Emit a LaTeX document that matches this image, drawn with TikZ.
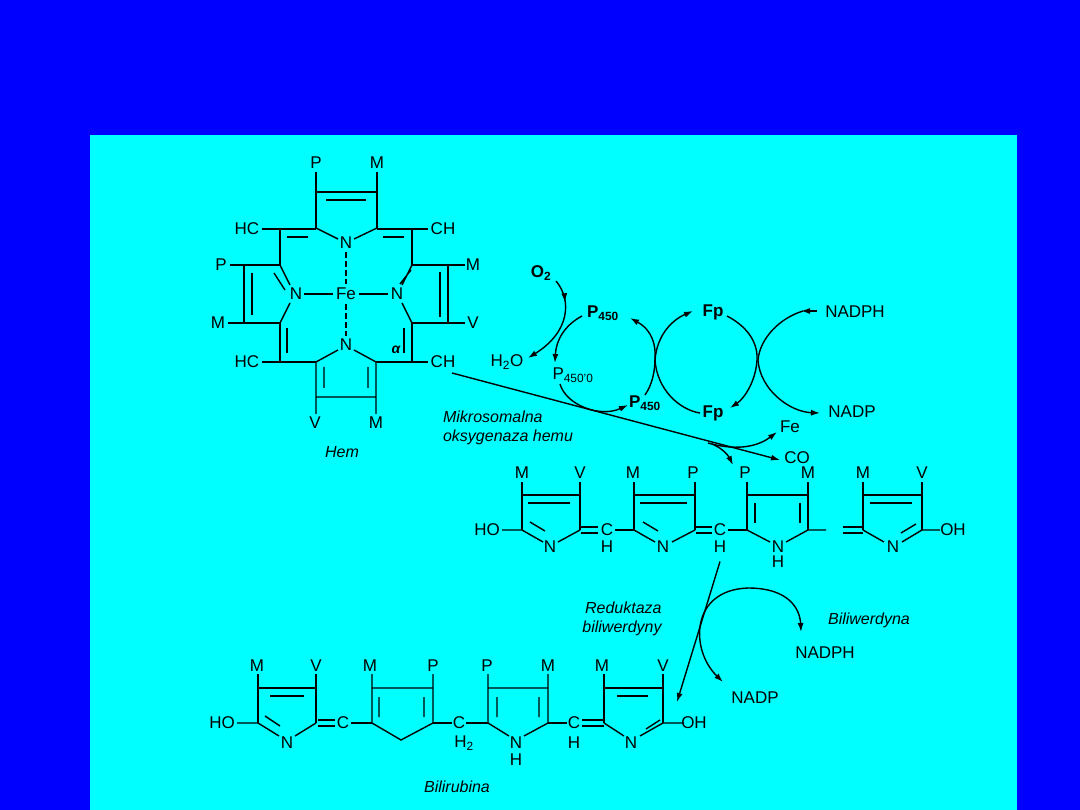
\documentclass[tikz,border=0pt]{standalone}
\usepackage{fontspec}
\setmainfont{Liberation Sans}
\usetikzlibrary{arrows.meta,decorations.markings}
\definecolor{bgblue}{RGB}{0,0,255}
\definecolor{bgcyan}{RGB}{0,255,255}
\tikzset{lb/.style={font=\fontsize{17}{17}\selectfont,inner sep=0pt},
 bl/.style={font=\bfseries\fontsize{17}{17}\selectfont,inner sep=0pt},
 it/.style={font=\itshape\fontsize{16}{19}\selectfont,inner sep=0pt,align=left},
 bd/.style={line width=1.4pt},
 ar/.style={line width=1.4pt,-{Latex[length=9pt,width=6pt]}},
 ra/.style={line width=1.4pt,{Latex[length=9pt,width=6pt]}-},
 mid/.style={postaction={decorate},decoration={markings,mark=at position #1 with {\arrow{Latex[length=9pt,width=6pt]}}}}}
\begin{document}
\begin{tikzpicture}[x=1pt,y=-1pt]
\fill[bgblue] (0,0) rectangle (1080,810);
\fill[bgcyan] (90,135) rectangle (1017,810);
\begin{scope}[bd]
% heme
\node[lb] (hp1) at (316,163) {P}; \node[lb] (hm1) at (377,163) {M};
\draw (316,172)--(316,228) (377,172)--(377,228) (316,192)--(377,192) (326,200)--(366,200);
\draw (316,228)--(338,239) (377,228)--(354,239);
\node[lb] (hn1) at (346,243) {N};
\node[lb] (hc1) at (247,229) {HC}; \node[lb] (hc2) at (443,229) {CH};
\draw (262,229)--(316,229) (287,237)--(308,237) (377,229)--(428,229) (383,237)--(404,237);
\draw (280,229)--(280,265) (280,323)--(280,362) (287,328)--(287,353);
\node[lb] (hp2) at (221,265) {P}; \node[lb] (hm2) at (218,323) {M};
\draw (230,265)--(280,265) (244,265)--(244,323) (228,323)--(280,323) (252,273)--(252,315);
\draw (280,265)--(290,285) (280,323)--(290,303) (274,273)--(285,290);
\node[lb] (hn2) at (296,294) {N}; \node[lb] (fe) at (346,294) {Fe}; \node[lb] (hn3) at (397,294) {N};
\draw (304,294)--(333,294) (359,294)--(388,294);
\draw[dash pattern=on 6pt off 3pt] (346,252)--(346,284) (346,304)--(346,336);
\draw (412,229)--(412,265) (412,323)--(412,362) (404,328)--(404,353);
\node[font=\bfseries\itshape\fontsize{14}{14}\selectfont,inner sep=0pt] (alf) at (396,350) {α};
\node[lb] (hm3) at (473,265) {M}; \node[lb] (hv1) at (473,323) {V};
\draw (412,265)--(465,265) (448,265)--(448,323) (412,323)--(465,323) (440,272)--(440,317);
\draw (412,265)--(402,285) (412,323)--(402,303) (400,284)--(411,270);
\node[lb] (hc3) at (247,362) {HC}; \node[lb] (hc4) at (443,362) {CH};
\draw (262,362)--(316,362) (376,362)--(428,362);
\node[lb] (hn4) at (346,345) {N};
\draw (316,362)--(338,350) (376,362)--(354,350) (316,362)--(316,414) (376,362)--(376,414) (316,397)--(376,397) (324,367)--(324,388) (368,367)--(368,388);
\node[lb] (hv2) at (315,423) {V}; \node[lb] (hm4) at (376,423) {M};
\node[it] (hem) at (342,452) {Hem};
% biliverdin
\node[lb] at (522,473) {M}; \node[lb] at (580,473) {V};
\draw (522,482)--(522,530) (580,482)--(580,530) (522,495)--(580,495) (528,503)--(570,503);
\node[lb] (bho) at (487,530) {HO}; \node[lb] at (550,547) {N};
\draw (502,530)--(522,530) (522,530)--(543,542) (580,530)--(558,542) (530,522)--(545,531);
\draw (581,527)--(598,527) (581,533)--(598,533);
\node[lb] at (607,530) {C}; \node[lb] at (607,547) {H};
\draw (615,530)--(634,530);
\node[lb] at (633,473) {M}; \node[lb] at (693,473) {P};
\draw (634,482)--(634,530) (695,482)--(695,530) (634,495)--(695,495) (640,503)--(687,503);
\draw (634,530)--(655,542) (695,530)--(672,542) (643,522)--(658,531);
\node[lb] at (663,547) {N};
\draw (696,527)--(712,527) (696,533)--(712,533);
\node[lb] (bvc) at (720,530) {C}; \node[lb] (bvh) at (720,547) {H};
\draw (728,530)--(747,530);
\node[lb] at (745,473) {P}; \node[lb] at (808,473) {M};
\draw (747,482)--(747,530) (808,482)--(808,530) (747,495)--(808,495) (755,503)--(755,523) (800,503)--(800,523);
\draw (747,530)--(770,542) (808,530)--(786,542) (808,530)--(826,530);
\node[lb] at (778,547) {N}; \node[lb] at (778,562) {H};
\draw (843,527)--(863,527) (843,533)--(863,533);
\node[lb] at (863,473) {M}; \node[lb] at (922,473) {V};
\draw (863,482)--(863,530) (922,482)--(922,530) (863,495)--(922,495) (870,503)--(912,503);
\draw (863,530)--(884,542) (922,530)--(902,542) (901,533)--(916,524) (922,530)--(940,530);
\node[lb] at (893,547) {N}; \node[lb] at (953,530) {OH};
% bilirubin
\node[lb] at (257,666) {M}; \node[lb] at (316,666) {V};
\draw (258,674)--(258,723) (316,674)--(316,723) (258,688)--(316,688) (270,696)--(304,696);
\node[lb] at (222,723) {HO}; \node[lb] at (287,743) {N};
\draw (237,723)--(258,723) (258,723)--(279,736) (316,723)--(295,736) (265,716)--(280,726);
\draw (318,720)--(335,720) (318,726)--(335,726);
\node[lb] at (343,723) {C};
\draw (351,723)--(372,723);
\node[lb] at (370,666) {M}; \node[lb] at (433,666) {P};
\draw (372,674)--(372,723) (433,674)--(433,723) (372,688)--(433,688) (372,723)--(401,740)--(433,723) (379,697)--(379,717) (424,697)--(424,717);
\draw (433,723)--(452,723);
\node[lb] at (459,723) {C}; \node[font=\fontsize{17}{17}\selectfont,inner sep=0pt] at (464,743) {H\textsubscript{2}};
\draw (466,723)--(488,723);
\node[lb] at (487,666) {P}; \node[lb] at (548,666) {M};
\draw (488,674)--(488,723) (548,674)--(548,723) (488,688)--(548,688) (488,723)--(509,736) (548,723)--(524,736) (497,697)--(497,717) (539,697)--(539,717);
\node[lb] at (516,743) {N}; \node[lb] at (516,760) {H};
\draw (548,723)--(567,723);
\node[lb] at (574,723) {C}; \node[lb] at (574,743) {H};
\draw (582,720)--(604,720) (582,726)--(604,726);
\node[lb] at (602,666) {M}; \node[lb] (brv) at (663,666) {V};
\draw (604,674)--(604,723) (663,674)--(663,723) (604,688)--(663,688) (617,696)--(648,696);
\draw (604,723)--(624,736) (663,723)--(640,736) (646,729)--(660,720) (663,723)--(684,723);
\node[lb] at (631,743) {N}; \node[lb] at (694,723) {OH};
\node[it] at (457,787) {Bilirubina};
\end{scope}
% cycle labels
\node[bl] (o2) at (541,273) {O\textsubscript{2}};
\node[bl] (p1) at (603,313) {P\textsubscript{450}};
\node[lb] (h2o) at (507,362) {H\textsubscript{2}O};
\node[lb] (p0) at (573,375) {P\textsubscript{450'0}};
\node[bl] (p2) at (645,403) {P\textsubscript{450}};
\node[bl] (fp1) at (713,312) {Fp};
\node[bl] (fp2) at (713,413) {Fp};
\node[lb] (nadph) at (855,312) {NADPH};
\node[lb] (nadp) at (852,412) {NADP};
\node[lb] (fe2) at (790,427) {Fe};
\node[lb] (co) at (797,458) {CO};
\node[it] (mik) at (508,428) {Mikrosomalna\\oksygenaza hemu};
\node[it,align=right] (red) at (622,619) {Reduktaza\\biliwerdyny};
\node[it] (bvd) at (869,620) {Biliwerdyna};
\node[lb] (nadph2) at (825,653) {NADPH};
\node[lb] (nadp2) at (755,698) {NADP};
% arrows
\draw[ar] (452,373)--(780,460);
\draw[ar] (708,443) .. controls (740,452) and (760,445) .. (777,432);
\draw[ar] (712,444) .. controls (722,448) and (728,455) .. (733,465);
\draw[ra] (630,318) .. controls (652,330) and (656,345) .. (655,358) .. controls (655,372) and (652,385) .. (645,395);
\draw[ar] (582,316) .. controls (565,325) and (556,340) .. (555,363);
\draw[ar,mid=0.25] (556,281) .. controls (572,300) and (570,332) .. (528,358);
\draw[ar] (560,384) .. controls (566,405) and (600,418) .. (628,405);
\draw[ar] (655,360) .. controls (657,335) and (672,320) .. (693,311);
\draw[bd] (655,360) .. controls (657,390) and (680,410) .. (700,413);
\draw[ar] (727,316) .. controls (750,328) and (758,345) .. (757,360) .. controls (756,380) and (745,398) .. (730,408);
\draw[ar] (817,311)--(801,311);
\draw[ar] (803,311) .. controls (780,318) and (760,338) .. (758,360) .. controls (760,390) and (790,412) .. (820,413);
\draw[ar] (bvh.south) ++(0,8) -- (677,702);
\draw[bd,{Latex[length=9pt,width=6pt]}-{Latex[length=9pt,width=6pt]}] (723,682) .. controls (690,650) and (690,590) .. (748,588) .. controls (790,588) and (800,610) .. (801,632);
\end{tikzpicture}
\end{document}
